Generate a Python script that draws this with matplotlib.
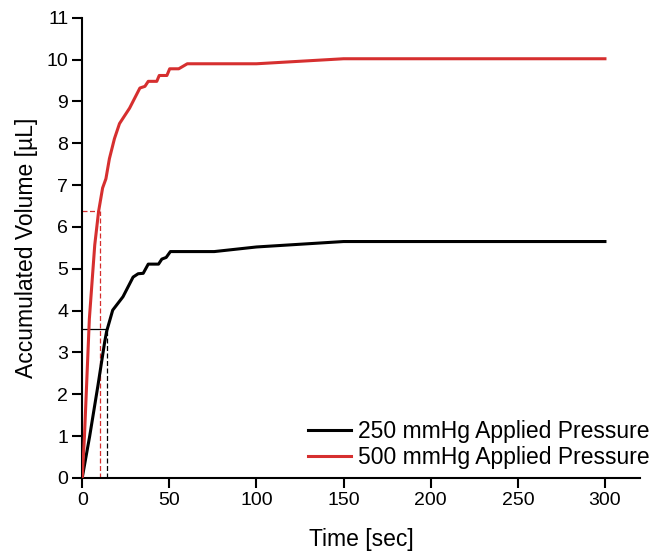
import matplotlib
matplotlib.use("Agg")
import matplotlib.pyplot as plt

plt.rcParams["font.family"] = ["Liberation Sans", "DejaVu Sans"]

# 250 mmHg curve
t_250 = [0, 4.3, 9.0, 12.9, 14.0, 17.5, 23.4, 29.2, 32.1, 35.0, 37.9, 43.8, 45.7, 48.2, 50.6, 75.8, 100, 150, 300]
v_250 = [0, 1.0, 2.2, 3.25, 3.5, 4.01, 4.33, 4.8, 4.88, 4.89, 5.11, 5.11, 5.23, 5.27, 5.41, 5.41, 5.52, 5.65, 5.65]

# 500 mmHg curve
t_500 = [0, 1.3, 4.1, 7.2, 9.4, 11.7, 13.6, 15.6, 18.5, 21.4, 27.2, 33.1, 36.0, 37.9, 42.8, 44.2, 48.6, 50.2, 55.4, 60.3, 100, 150, 300]
v_500 = [0, 1.0, 3.8, 5.57, 6.37, 6.93, 7.15, 7.63, 8.11, 8.47, 8.84, 9.32, 9.36, 9.48, 9.48, 9.62, 9.62, 9.78, 9.78, 9.9, 9.9, 10.02, 10.02]

# guide lines (time to reach marked volume)
t_mark_250, v_mark_250 = 14.2, 3.56
t_mark_500, v_mark_500 = 10.3, 6.37

fig = plt.figure(figsize=(6.63, 5.55), dpi=100)
ax = fig.add_axes([0.124, 0.139, 0.841, 0.829])

ax.plot(t_250, v_250, color="black", lw=2.2, label="250 mmHg Applied Pressure", zorder=3)
ax.plot(t_500, v_500, color="#d62f2f", lw=2.2, label="500 mmHg Applied Pressure", zorder=3)

ax.plot([0, t_mark_250], [v_mark_250, v_mark_250], color="black", lw=0.9)
ax.plot([t_mark_250, t_mark_250], [0, v_mark_250], color="black", lw=0.9, ls=(0, (4, 2)))
ax.plot([0, t_mark_500 - 0.6], [v_mark_500, v_mark_500], color="#d62f2f", lw=0.9, ls=(0, (4, 2)))
ax.plot([t_mark_500, t_mark_500], [0, v_mark_500], color="#d62f2f", lw=0.9, ls=(0, (4, 2)))

ax.set_xlim(0, 320)
ax.set_ylim(0, 11)
ax.set_xticks(range(0, 301, 50))
ax.set_yticks(range(0, 12))
ax.spines["top"].set_visible(False)
ax.spines["right"].set_visible(False)
ax.spines["left"].set_linewidth(1.5)
ax.spines["bottom"].set_linewidth(1.5)
ax.tick_params(direction="out", length=7, width=1.5, labelsize=14, pad=3)
ax.set_xlabel("Time [sec]", fontsize=16.5, labelpad=14)
ax.set_ylabel("Accumulated Volume [µL]", fontsize=16.5, labelpad=6)

ax.legend(loc="lower right", bbox_to_anchor=(1.055, -0.025), frameon=False,
          fontsize=16.5, handlelength=1.9, labelspacing=0.1, handletextpad=0.3)

fig.savefig("out.png", dpi=100)
